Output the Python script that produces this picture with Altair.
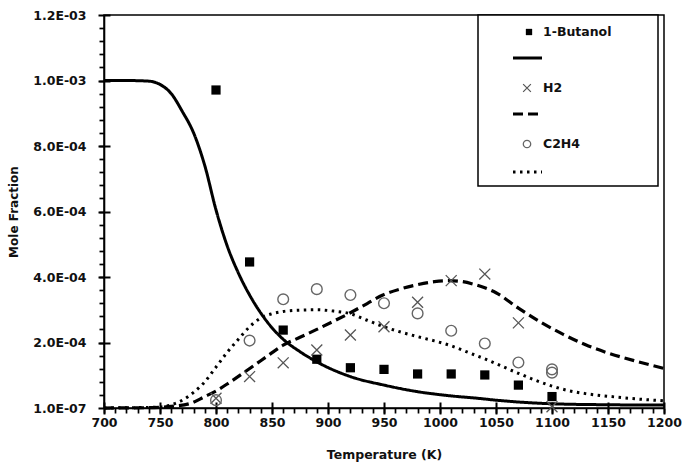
import altair as alt
import pandas as pd

# ---- model curves (temperature in K, mole fraction) ----
butanol_model_T = [700, 720, 740, 750, 760, 770, 780, 790, 800, 810, 820, 830, 840, 850, 860, 875, 890, 920, 950, 980, 1010, 1033, 1050, 1100, 1150, 1200]
butanol_model_X = [1.0e-3, 1.0e-3, 9.98e-4, 9.88e-4, 9.6e-4, 9.05e-4, 8.4e-4, 7.4e-4, 6.05e-4, 4.95e-4, 4.12e-4, 3.45e-4, 2.9e-4, 2.45e-4, 2.1e-4, 1.72e-4, 1.41e-4, 9.6e-5, 7.0e-5, 5.0e-5, 3.7e-5, 3.0e-5, 2.4e-5, 1.3e-5, 1.0e-5, 9e-6]

h2_model_T = [700, 740, 760, 777, 790, 800, 812, 824, 836, 848, 860, 875, 890, 905, 920, 935, 949, 965, 979, 995, 1008, 1020, 1030, 1040, 1050, 1070, 1090, 1110, 1130, 1150, 1175, 1200]
h2_model_X = [1e-7, 1e-6, 5e-6, 1.4e-5, 3.5e-5, 5.2e-5, 7.8e-5, 1.06e-4, 1.35e-4, 1.64e-4, 1.92e-4, 2.16e-4, 2.40e-4, 2.65e-4, 2.91e-4, 3.19e-4, 3.45e-4, 3.64e-4, 3.76e-4, 3.86e-4, 3.89e-4, 3.86e-4, 3.78e-4, 3.67e-4, 3.52e-4, 3.05e-4, 2.62e-4, 2.25e-4, 1.93e-4, 1.68e-4, 1.43e-4, 1.21e-4]

c2h4_model_T = [700, 750, 760, 770, 780, 790, 800, 810, 820, 830, 840, 850, 860, 875, 890, 905, 920, 935, 950, 965, 980, 995, 1010, 1025, 1040, 1055, 1070, 1085, 1100, 1115, 1130, 1150, 1175, 1200]
c2h4_model_X = [1e-7, 3e-6, 1.0e-5, 2.4e-5, 4.8e-5, 8.0e-5, 1.25e-4, 1.70e-4, 2.10e-4, 2.48e-4, 2.75e-4, 2.88e-4, 2.95e-4, 2.99e-4, 3.00e-4, 2.96e-4, 2.88e-4, 2.68e-4, 2.48e-4, 2.32e-4, 2.18e-4, 2.05e-4, 1.90e-4, 1.70e-4, 1.50e-4, 1.28e-4, 1.06e-4, 8.5e-5, 6.7e-5, 5.3e-5, 4.4e-5, 3.6e-5, 2.8e-5, 2.2e-5]

# ---- measurements ----
butanol_T = [800, 830, 860, 890, 920, 950, 980, 1010, 1040, 1070, 1100]
butanol_X = [9.71e-4, 4.46e-4, 2.38e-4, 1.49e-4, 1.23e-4, 1.18e-4, 1.04e-4, 1.04e-4, 1.01e-4, 7.0e-5, 3.5e-5]

h2_T = [800, 830, 860, 890, 920, 950, 980, 1010, 1040, 1070, 1100]
h2_X = [3.0e-5, 9.6e-5, 1.38e-4, 1.77e-4, 2.23e-4, 2.48e-4, 3.23e-4, 3.89e-4, 4.09e-4, 2.60e-4, 4e-6]

c2h4_T = [800, 830, 860, 890, 920, 950, 980, 1010, 1040, 1070, 1100, 1100]
c2h4_X = [2.4e-5, 2.06e-4, 3.32e-4, 3.63e-4, 3.45e-4, 3.20e-4, 2.89e-4, 2.36e-4, 1.97e-4, 1.39e-4, 1.18e-4, 1.08e-4]

# ---- axes ----
x_major = list(range(700, 1201, 50))
x_minor = list(range(700, 1201, 10))
y_major = [1e-7, 2e-4, 4e-4, 6e-4, 8e-4, 1e-3, 1.2e-3]
y_minor = [k * 4e-5 for k in range(0, 31)]

FONT = "DejaVu Sans"
W, H = 560, 393

xs = alt.Scale(domain=[700, 1200], nice=False, zero=False)
ys = alt.Scale(domain=[1e-7, 1.2e-3], nice=False, zero=False)

TICK = dict(ticks=True, tickColor="#000000", tickOpacity=1, grid=False, title=None, labels=False, domain=False)

x_axis = alt.Axis(orient="bottom", values=x_major, format="d", ticks=True, tickSize=6, tickWidth=2,
                  tickColor="#000000", tickOpacity=1, grid=False, labelPadding=2, labelFlush=False,
                  labelFont=FONT, labelFontSize=12.5, labelFontWeight="bold", labelColor="#111",
                  title="Temperature (K)", titleFont=FONT, titleFontSize=12.5, titleFontWeight="bold",
                  titleColor="#111", titlePadding=20, domainColor="black", domainWidth=1.6)
y_axis = alt.Axis(orient="left", values=y_major, ticks=True, tickSize=6, tickWidth=2,
                  tickColor="#000000", tickOpacity=1, grid=False, labelPadding=12, labelFlush=False,
                  labelExpr="replace(format(datum.value, '.1e'), 'e-', 'E-0')",
                  labelFont=FONT, labelFontSize=12.5, labelFontWeight="bold", labelColor="#111",
                  title="Mole Fraction", titleFont=FONT, titleFontSize=12, titleFontWeight="bold",
                  titleColor="#111", titlePadding=12, domainColor="black", domainWidth=1.6)

# extra axes carrying only tick marks: minor ticks outside, major ticks also reaching inside
x_minor_axis = alt.Axis(orient="bottom", values=x_minor, tickSize=5, tickWidth=1.7, **TICK)
x_inner_axis = alt.Axis(orient="top", offset=-H, values=x_major, tickSize=6, tickWidth=2, **TICK)
y_minor_axis = alt.Axis(orient="left", values=y_minor, tickSize=5, tickWidth=1.7, **TICK)
y_inner_axis = alt.Axis(orient="right", offset=-W, values=y_major, tickSize=6, tickWidth=2, **TICK)


def curve(T, X, dash, width, xaxis=None, yaxis=None):
    df = pd.DataFrame({"T": T, "X": X})
    return alt.Chart(df).mark_line(color="black", strokeWidth=width, strokeDash=dash,
                                   interpolate="monotone").encode(
        x=alt.X("T:Q", scale=xs, axis=xaxis),
        y=alt.Y("X:Q", scale=ys, axis=yaxis),
    )


solid = curve(butanol_model_T, butanol_model_X, [1, 0], 3, x_axis, y_axis)
dashed = curve(h2_model_T, h2_model_X, [10, 5], 3.2, x_minor_axis, y_minor_axis)
dotted = curve(c2h4_model_T, c2h4_model_X, [2.5, 4.5], 3, x_inner_axis, y_inner_axis)

sq = alt.Chart(pd.DataFrame({"T": butanol_T, "X": butanol_X})).mark_point(
    shape="square", size=85, filled=True, color="black", opacity=1).encode(
    x=alt.X("T:Q", scale=xs, axis=None), y=alt.Y("X:Q", scale=ys, axis=None))

CROSS = "M-1,-1L1,1M-1,1L1,-1"
cr = alt.Chart(pd.DataFrame({"T": h2_T, "X": h2_X})).mark_point(
    shape=CROSS, size=120, filled=False, stroke="#555", strokeWidth=1.3, opacity=1).encode(
    x=alt.X("T:Q", scale=xs, axis=None), y=alt.Y("X:Q", scale=ys, axis=None))

ci = alt.Chart(pd.DataFrame({"T": c2h4_T, "X": c2h4_X})).mark_point(
    shape="circle", size=115, filled=False, stroke="#666", strokeWidth=1.4, opacity=1).encode(
    x=alt.X("T:Q", scale=xs, axis=None), y=alt.Y("X:Q", scale=ys, axis=None))

# legend panel
one = alt.Data(values=[{"k": 0}])
box = alt.Chart(one).mark_rect(fill="white", stroke="black", strokeWidth=1.5).encode(
    x=alt.value(374), x2=alt.value(554), y=alt.value(0), y2=alt.value(171))


def leg_text(label, y):
    return alt.Chart(one).mark_text(align="left", baseline="middle", font=FONT, fontSize=12.5,
                                    fontWeight="bold", color="#111").encode(
        x=alt.value(439), y=alt.value(y), text=alt.value(label))


def leg_line(y, dash, width):
    return alt.Chart(one).mark_rule(color="black", strokeWidth=width, strokeDash=dash).encode(
        x=alt.value(409), x2=alt.value(438), y=alt.value(y))


leg_sq = alt.Chart(one).mark_point(shape="square", size=40, filled=True, color="black", opacity=1).encode(
    x=alt.value(425), y=alt.value(17))
leg_cr = alt.Chart(one).mark_point(shape=CROSS, size=60, filled=False, stroke="#555", strokeWidth=1.2,
                                   opacity=1).encode(x=alt.value(423), y=alt.value(73))
leg_ci = alt.Chart(one).mark_point(shape="circle", size=55, filled=False, stroke="#666", strokeWidth=1.3,
                                   opacity=1).encode(x=alt.value(423), y=alt.value(129))

chart = alt.layer(
    solid, dashed, dotted, sq, cr, ci,
    box, leg_sq, leg_text("1-Butanol", 17), leg_line(43, [1, 0], 3),
    leg_cr, leg_text("H2", 73), leg_line(99, [10, 5], 3.2),
    leg_ci, leg_text("C2H4", 129), leg_line(157, [2.5, 4.5], 3),
).resolve_axis(x="independent", y="independent").properties(
    width=W, height=H,
    autosize=alt.AutoSizeParams(type="none"),
    padding={"left": 104, "top": 15, "right": 20, "bottom": 57},
    background="white",
).configure_view(stroke="black", strokeWidth=1.5)

chart.save("out.html", embed_options={"renderer": "svg", "actions": False})
